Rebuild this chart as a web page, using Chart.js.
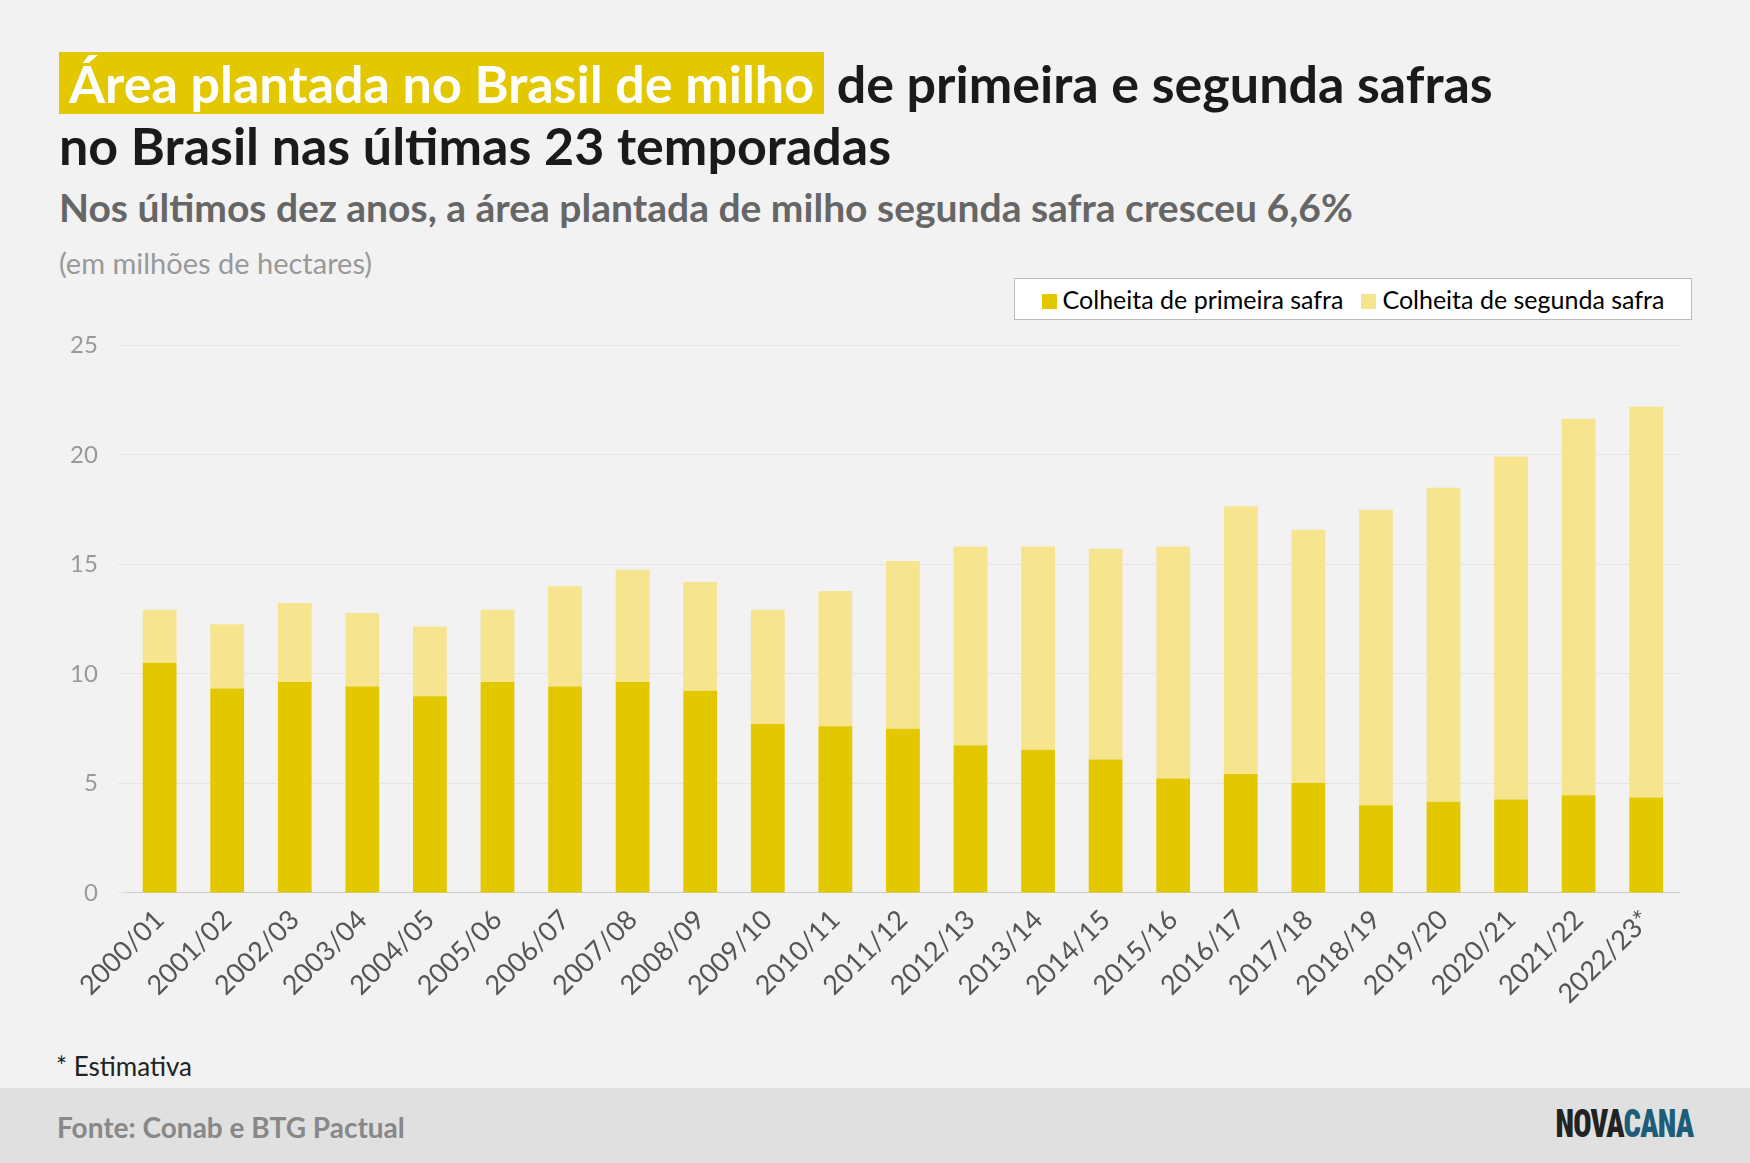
<!DOCTYPE html>
<html><head><meta charset="utf-8">
<script src="https://cdn.jsdelivr.net/npm/chart.js@4"></script>
<style>
body{margin:0;width:1750px;height:1163px;background:#f2f2f2;font-family:Lato,sans-serif;position:relative;overflow:hidden}
.t{position:absolute;left:59px;font-weight:bold;color:#1a1a1a;font-size:52px;line-height:62px}
.hl{background:#e3c800;color:#fff;padding:0 10px}
#sub{position:absolute;left:59px;top:184px;font-size:39px;font-weight:bold;color:#666}
#unit{position:absolute;left:59px;top:245px;font-size:29px;color:#999}
#legend{position:absolute;left:1014px;top:278px;width:678px;height:42px;border:1px solid #bbb;background:#fff;font-size:25px;display:flex;align-items:center;justify-content:center;gap:18px;box-sizing:border-box}
#legend i{display:inline-block;width:15px;height:15px;margin-right:6px}
#box{position:absolute;left:50px;top:311px;width:1630px;height:702px}
#est{position:absolute;left:56px;top:1050px;font-size:26px;color:#222}
#foot{position:absolute;left:0;top:1088px;width:1750px;height:75px;background:#e0e0e0}
#src{position:absolute;left:57px;top:22px;font-size:28px;font-weight:bold;color:#888}
#logo{position:absolute;right:57px;top:14px;font-size:38px;font-weight:900;letter-spacing:-1px;font-family:"Roboto Condensed",Roboto,sans-serif;transform:scaleX(.8);transform-origin:right}
</style></head><body>
<div class="t" style="top:52px"><span class="hl">Área plantada no Brasil de milho</span> de primeira e segunda safras</div>
<div class="t" style="top:114px">no Brasil nas últimas 23 temporadas</div>
<div id="sub">Nos últimos dez anos, a área plantada de milho segunda safra cresceu 6,6%</div>
<div id="unit">(em milhões de hectares)</div>
<div id="legend"><span><i style="background:#e3c800"></i>Colheita de primeira safra</span><span><i style="background:#f7e48e"></i>Colheita de segunda safra</span></div>
<div id="box"><canvas id="c"></canvas></div>
<div id="est">* Estimativa</div>
<div id="foot"><div id="src">Fonte: Conab e BTG Pactual</div><div id="logo"><span style="color:#222">NOVA</span><span style="color:#1e5d78">CANA</span></div></div>
<script>
const seasons = ['2000/01','2001/02','2002/03','2003/04','2004/05','2005/06','2006/07','2007/08','2008/09','2009/10','2010/11','2011/12','2012/13','2013/14','2014/15','2015/16','2016/17','2017/18','2018/19','2019/20','2020/21','2021/22','2022/23*'];
const firstCrop = [10.5,9.33,9.63,9.43,8.98,9.63,9.43,9.63,9.23,7.71,7.61,7.5,6.74,6.54,6.09,5.22,5.43,5.02,4.0,4.16,4.26,4.46,4.36];
const totalArea = [12.93,12.27,13.24,12.78,12.17,12.93,14.0,14.76,14.2,12.93,13.79,15.16,15.82,15.82,15.72,15.82,17.65,16.58,17.5,18.5,19.93,21.65,22.2];
const secondCrop = totalArea.map((t, i) => +(t - firstCrop[i]).toFixed(2));

new Chart(document.getElementById('c'), {
    type: 'bar',
    data: {
        labels: seasons,
        datasets: [
            {label: 'Colheita de primeira safra', data: firstCrop, backgroundColor: '#e3c800', barPercentage: 0.5, categoryPercentage: 1},
            {label: 'Colheita de segunda safra', data: secondCrop, backgroundColor: '#f7e48e', barPercentage: 0.5, categoryPercentage: 1},
        ],
    },
    options: {
        responsive: true, maintainAspectRatio: false, animation: false,
        layout: {padding: {top: 12, right: 0}},
        plugins: {legend: {display: false}, tooltip: {enabled: false}},
        scales: {
            x: {stacked: true, grid: {display: false}, border: {color: '#ccc'},
                ticks: {maxRotation: 45, minRotation: 45, color: '#555', font: {family: 'Lato', size: 27}}},
            y: {stacked: true, min: 0, max: 25, border: {display: false},
                grid: {color: '#e4e4e4'},
                ticks: {stepSize: 5, color: '#999', padding: 20, font: {family: 'Lato', size: 24}}},
        },
    },
});
</script>
</body></html>
